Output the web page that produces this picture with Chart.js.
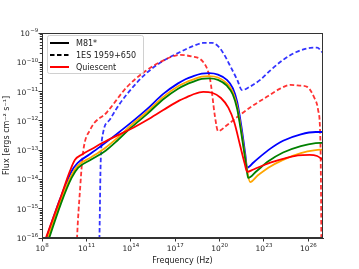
<!DOCTYPE html>
<html>
<head>
<meta charset="utf-8">
<script src="https://cdn.jsdelivr.net/npm/chart.js@4.4.0/dist/chart.umd.min.js"></script>
<style>
  html, body { margin: 0; padding: 0; background: #fff; }
</style>
</head>
<body>
<canvas id="sed" width="359" height="269"></canvas>
<script>
// log10(frequency / Hz) and log10(flux / erg cm^-2 s^-1)
const blueSolidNu = [7.9, 9.2, 10.0, 10.4, 11.2, 12.1, 13.0, 14.0, 15.1, 16.2, 17.2, 17.7, 18.2, 18.8, 19.3, 19.9, 20.5, 20.9, 21.2, 21.5, 21.75, 21.87, 22.3, 23.3, 24.3, 25.5, 26.5, 27.0];
const blueSolidF = [-16.6, -14.7, -13.72, -13.44, -13.15, -12.82, -12.47, -12.07, -11.6, -11.08, -10.72, -10.58, -10.48, -10.39, -10.37, -10.42, -10.6, -10.88, -11.35, -12.25, -13.15, -13.6, -13.42, -13.0, -12.68, -12.46, -12.38, -12.38];

const orangeSolidNu = [7.9, 9.25, 10.0, 10.42, 11.3, 12.2, 13.1, 14.0, 15.1, 16.2, 17.2, 17.7, 18.2, 18.8, 19.3, 19.9, 20.5, 20.9, 21.2, 21.5, 21.8, 22.07, 22.6, 23.3, 24.3, 25.5, 26.5, 27.0];
const orangeSolidF = [-16.75, -14.75, -13.85, -13.53, -13.25, -12.95, -12.58, -12.16, -11.69, -11.18, -10.82, -10.69, -10.59, -10.49, -10.47, -10.52, -10.72, -11.02, -11.52, -12.42, -13.45, -14.09, -13.86, -13.6, -13.33, -13.1, -13.0, -12.98];

const greenSolidNu = [7.9, 9.3, 10.0, 10.45, 11.3, 12.3, 13.1, 14.0, 15.1, 16.2, 17.2, 17.7, 18.2, 18.8, 19.3, 19.9, 20.5, 20.9, 21.2, 21.5, 21.8, 21.94, 22.5, 23.3, 24.3, 25.5, 26.5, 27.0];
const greenSolidF = [-16.9, -14.8, -13.95, -13.6, -13.33, -13.02, -12.67, -12.24, -11.77, -11.26, -10.9, -10.77, -10.67, -10.57, -10.55, -10.6, -10.8, -11.1, -11.6, -12.5, -13.5, -13.95, -13.72, -13.38, -13.08, -12.86, -12.76, -12.75];

const redSolidNu = [7.9, 9.2, 9.9, 10.23, 10.7, 11.4, 12.1, 13.0, 14.0, 15.1, 16.2, 17.3, 17.8, 18.2, 18.9, 19.5, 20.1, 20.6, 21.0, 21.4, 21.7, 21.87, 22.3, 23.3, 24.3, 25.3, 26.1, 26.6, 27.0];
const redSolidF = [-16.5, -14.7, -13.7, -13.33, -13.15, -12.95, -12.75, -12.52, -12.28, -11.97, -11.63, -11.3, -11.19, -11.1, -11.01, -11.04, -11.22, -11.55, -12.05, -12.85, -13.45, -13.74, -13.66, -13.45, -13.3, -13.18, -13.16, -13.2, -13.33];

const redDashedNu = [10.3, 10.37, 10.57, 10.77, 11.25, 12.4, 13.75, 15.0, 16.0, 17.34, 18.1, 18.9, 19.37, 19.7, 19.9, 20.5, 21.2, 22.2, 23.2, 24.1, 24.8, 25.5, 25.93, 26.4, 26.67, 26.8, 26.85, 26.9];
const redDashedF = [-17, -16, -14.36, -13.1, -12.31, -11.7, -10.84, -10.3, -9.99, -9.75, -9.8, -9.99, -10.6, -11.87, -12.35, -12.15, -11.87, -11.5, -11.18, -10.9, -10.77, -10.8, -10.84, -11.2, -11.63, -12.3, -13.5, -17];

const blueDashedNu = [11.85, 11.9, 11.95, 11.99, 12.13, 12.6, 13.28, 14.16, 15.0, 15.98, 17.34, 18.2, 18.9, 19.5, 19.9, 20.25, 20.7, 21.2, 21.53, 22.0, 22.75, 23.5, 24.3, 25.2, 26.13, 26.6, 27.0];
const blueDashedF = [-17, -15.5, -13.8, -13.1, -12.41, -11.95, -11.4, -10.84, -10.4, -10.02, -9.65, -9.45, -9.34, -9.34, -9.45, -9.68, -10.1, -10.6, -10.95, -10.85, -10.6, -10.25, -9.92, -9.65, -9.51, -9.5, -9.68];

const xTickExps = [8, 11, 14, 17, 20, 23, 26];
const yTickExps = [-16, -15, -14, -13, -12, -11, -10, -9];

const legendLabels = ["M81*", "1ES 1959+650", "Quiescent"];

function toPoints(nu, f) {
  return nu.map((n, i) => ({ x: Math.pow(10, n), y: Math.pow(10, f[i]) }));
}

function line(nu, f, color, dashed) {
  return {
    data: toPoints(nu, f),
    borderColor: color,
    borderWidth: 1.8,
    borderDash: dashed ? [4.5, 2.5] : [],
    pointRadius: 0,
    fill: false,
    cubicInterpolationMode: "monotone"
  };
}

// "10" with a raised exponent, like matplotlib's log tick labels
function powLabel(ctx, exp, x, y, align) {
  ctx.font = "7.5px 'DejaVu Sans'";
  const w1 = ctx.measureText("10").width;
  ctx.font = "5.5px 'DejaVu Sans'";
  const e = String(exp).replace("-", "\u2212");
  const w2 = ctx.measureText(e).width;
  const x0 = align === "right" ? x - w1 - w2 : x - (w1 + w2) / 2;
  ctx.font = "7.5px 'DejaVu Sans'";
  ctx.fillText("10", x0, y);
  ctx.font = "5.5px 'DejaVu Sans'";
  ctx.fillText(e, x0 + w1 + 0.3, y - 3.6);
}

// matplotlib-ish frame, minor ticks, tick labels and a line-style legend
const extras = {
  id: "extras",
  afterDraw(chart) {
    const ctx = chart.ctx;
    const a = chart.chartArea;
    const xs = chart.scales.x;
    const ys = chart.scales.y;
    ctx.save();
    ctx.strokeStyle = "#333";
    ctx.lineWidth = 1;
    ctx.strokeRect(a.left + 0.5, a.top + 0.5, a.right - a.left - 1, a.bottom - a.top - 1);

    ctx.beginPath();
    for (let n = -16; n < -9; n++) {
      for (let k = 2; k < 10; k++) {
        const py = Math.round(ys.getPixelForValue(k * Math.pow(10, n))) + 0.5;
        ctx.moveTo(a.left - 2.2, py);
        ctx.lineTo(a.left, py);
      }
    }
    ctx.stroke();

    ctx.fillStyle = "#222";
    ctx.textBaseline = "alphabetic";
    ctx.textAlign = "left";
    xTickExps.forEach(e => powLabel(ctx, e, xs.getPixelForValue(Math.pow(10, e)), 250.5, "center"));
    yTickExps.forEach(e => powLabel(ctx, e, 38, ys.getPixelForValue(Math.pow(10, e)) + 3, "right"));

    // legend
    const bx = 47, by = 35, bw = 96, bh = 38;
    ctx.fillStyle = "rgba(255,255,255,0.85)";
    ctx.strokeStyle = "#d0d0d0";
    ctx.beginPath();
    ctx.roundRect(bx + 0.5, by + 0.5, bw, bh, 2);
    ctx.fill();
    ctx.stroke();
    const rows = [43, 55, 67];
    const styles = [["#000", []], ["#000", [4.5, 2.5]], ["red", []]];
    ctx.font = "8px 'DejaVu Sans'";
    ctx.textBaseline = "middle";
    rows.forEach((ry, i) => {
      ctx.strokeStyle = styles[i][0];
      ctx.setLineDash(styles[i][1]);
      ctx.lineWidth = 2;
      ctx.beginPath();
      ctx.moveTo(50, ry);
      ctx.lineTo(69, ry);
      ctx.stroke();
      ctx.fillStyle = "#222";
      ctx.fillText(legendLabels[i], 76, ry + 0.5);
    });
    ctx.restore();
  }
};

new Chart(document.getElementById("sed"), {
  type: "line",
  data: {
    datasets: [
      line(redSolidNu, redSolidF, "#ff0000", false),
      line(greenSolidNu, greenSolidF, "#008000", false),
      line(orangeSolidNu, orangeSolidF, "#ffa500", false),
      line(blueSolidNu, blueSolidF, "#0000ff", false),
      line(redDashedNu, redDashedF, "rgba(255,0,0,0.8)", true),
      line(blueDashedNu, blueDashedF, "rgba(0,0,255,0.8)", true)
    ]
  },
  options: {
    responsive: false,
    animation: false,
    layout: { padding: { top: 33, right: 36, left: 0, bottom: 0 } },
    plugins: { legend: { display: false }, tooltip: { enabled: false } },
    scales: {
      x: {
        type: "logarithmic",
        min: 1e8,
        max: 1e27,
        afterBuildTicks: s => { s.ticks = xTickExps.map(e => ({ value: Math.pow(10, e) })); },
        afterFit: s => { s.height = 31; },
        grid: { drawOnChartArea: false, tickLength: 3.5, color: "#333" },
        border: { color: "#333" },
        ticks: { display: false },
        title: { display: true, text: "Frequency (Hz)", color: "#222", padding: { top: 0, bottom: 3 }, font: { family: "DejaVu Sans", size: 8 } }
      },
      y: {
        type: "logarithmic",
        min: 1e-16,
        max: 1e-9,
        afterBuildTicks: s => { s.ticks = yTickExps.map(e => ({ value: Math.pow(10, e) })); },
        afterFit: s => { s.width = 42; },
        grid: { drawOnChartArea: false, tickLength: 3.5, color: "#333" },
        border: { color: "#333" },
        ticks: { display: false },
        title: { display: true, text: "Flux [ergs cm\u207b\u00b2 s\u207b\u00b9]", color: "#222", padding: { top: 2, bottom: 0 }, font: { family: "DejaVu Sans", size: 8 } }
      }
    }
  },
  plugins: [extras]
});
</script>
</body>
</html>
